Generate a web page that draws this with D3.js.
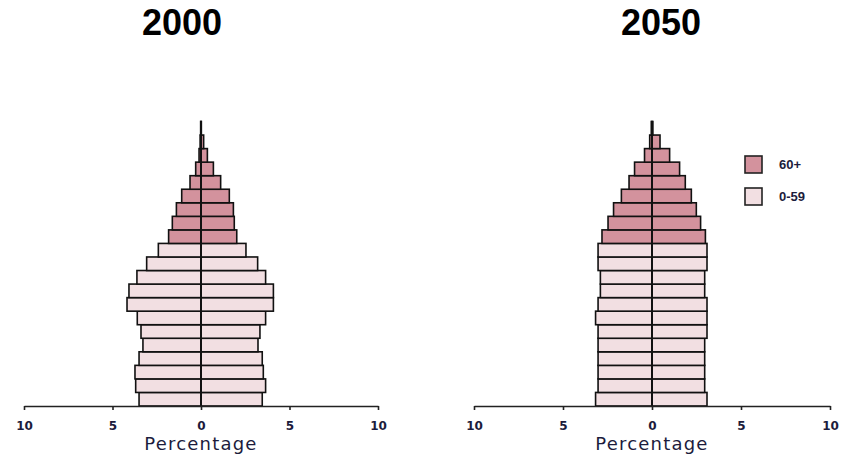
<!DOCTYPE html>
<html>
<head>
<meta charset="utf-8">
<script src="https://cdn.jsdelivr.net/npm/d3@7"></script>
<style>
  body { margin: 0; background: #fff; }
  svg { display: block; }
</style>
</head>
<body>
<svg id="chart" width="848" height="454"></svg>
<script>
const ageGroups = ["0-4","5-9","10-14","15-19","20-24","25-29","30-34","35-39","40-44","45-49",
  "50-54","55-59","60-64","65-69","70-74","75-79","80-84","85-89","90-94","95-99","100+"];
const oldGroups = ["60-64","65-69","70-74","75-79","80-84","85-89","90-94","95-99","100+"];

const male2000   = [3.50,3.69,3.73,3.50,3.28,3.39,3.60,4.18,4.07,3.62,3.07,2.41,1.83,1.62,1.39,1.09,0.62,0.30,0.11,0.05,0.02];
const female2000 = [3.46,3.65,3.52,3.46,3.22,3.33,3.65,4.09,4.09,3.65,3.20,2.54,2.02,1.88,1.83,1.60,1.11,0.70,0.36,0.15,0.02];
const male2050   = [3.17,3.03,3.03,3.03,3.03,3.03,3.17,3.03,2.90,2.90,3.03,3.03,2.81,2.47,2.16,1.72,1.29,0.98,0.42,0.13,0.04];
const female2050 = [3.09,2.96,2.96,2.96,2.96,3.09,3.09,3.09,2.96,2.96,3.09,3.09,3.00,2.73,2.49,2.21,1.87,1.55,0.99,0.45,0.05];

const years = ["2000","2050"];
const tickValues = [-10,-5,0,5,10];
const legendLabels = ["60+","0-59"];
const axisLabel = "Percentage";

const colorOld = "#d3929d";
const colorYoung = "#f2dfe2";
const svg = d3.select("#chart");

const y = d3.scaleBand().domain(ageGroups).range([406, 121.5]).paddingInner(0).paddingOuter(0);

const panels = [
  {year: years[0], male: male2000, female: female2000, range: [24, 378], titleX: 182},
  {year: years[1], male: male2050, female: female2050, range: [474, 830], titleX: 661}
];

panels.forEach(p => {
  const x = d3.scaleLinear().domain([-10, 10]).range(p.range);
  const g = svg.append("g");

  g.append("text")
    .attr("x", p.titleX).attr("y", 35)
    .attr("text-anchor", "middle")
    .style("font-family", "Liberation Sans, Arial, sans-serif")
    .style("font-weight", "bold").style("font-size", "36px")
    .attr("fill", "#000")
    .text(p.year);

  const rows = ageGroups.map((a, i) => ({age: a, m: p.male[i], f: p.female[i]}));
  const fillOf = d => oldGroups.includes(d.age) ? colorOld : colorYoung;

  g.selectAll("rect.m").data(rows).join("rect")
    .attr("class", "m")
    .attr("x", d => x(-d.m)).attr("width", d => x(0) - x(-d.m))
    .attr("y", d => y(d.age)).attr("height", y.bandwidth())
    .attr("fill", fillOf).attr("stroke", "#111").attr("stroke-width", 1.6);

  g.selectAll("rect.f").data(rows).join("rect")
    .attr("class", "f")
    .attr("x", x(0)).attr("width", d => x(d.f) - x(0))
    .attr("y", d => y(d.age)).attr("height", y.bandwidth())
    .attr("fill", fillOf).attr("stroke", "#111").attr("stroke-width", 1.6);

  g.append("line")
    .attr("x1", x(0)).attr("x2", x(0))
    .attr("y1", y(ageGroups[ageGroups.length - 1])).attr("y2", 406)
    .attr("stroke", "#111").attr("stroke-width", 2);

  const axis = d3.axisBottom(x).tickValues(tickValues).tickSize(4).tickSizeOuter(0)
    .tickPadding(11).tickFormat(d => Math.abs(d));
  const ag = g.append("g").attr("transform", "translate(0,406)").call(axis);
  ag.select(".domain").attr("stroke", "#222").attr("stroke-width", 1.6);
  ag.selectAll(".tick line").attr("stroke", "#222").attr("stroke-width", 1.6);
  ag.selectAll(".tick text")
    .style("font-family", "DejaVu Sans, sans-serif").style("font-size", "12px")
    .style("font-weight", "bold").attr("fill", "#1c1c3c");

  g.append("text")
    .attr("x", x(0)).attr("y", 450)
    .attr("text-anchor", "middle")
    .style("font-family", "DejaVu Sans, sans-serif").style("font-size", "18px")
    .style("letter-spacing", "1.2px")
    .attr("fill", "#1c1c3c")
    .text(axisLabel);
});

// Legend
const lg = svg.append("g");
const legendColors = [colorOld, colorYoung];
legendLabels.forEach((lab, i) => {
  const yy = 156 + i * 32;
  lg.append("rect").attr("x", 745).attr("y", yy).attr("width", 17).attr("height", 17)
    .attr("fill", legendColors[i]).attr("stroke", "#222").attr("stroke-width", 1.6);
  lg.append("text").attr("x", 779).attr("y", yy + 13)
    .style("font-family", "Liberation Sans, Arial, sans-serif").style("font-weight", "bold")
    .style("font-size", "13px").attr("fill", "#1c1c3c")
    .text(lab);
});
</script>
</body>
</html>
